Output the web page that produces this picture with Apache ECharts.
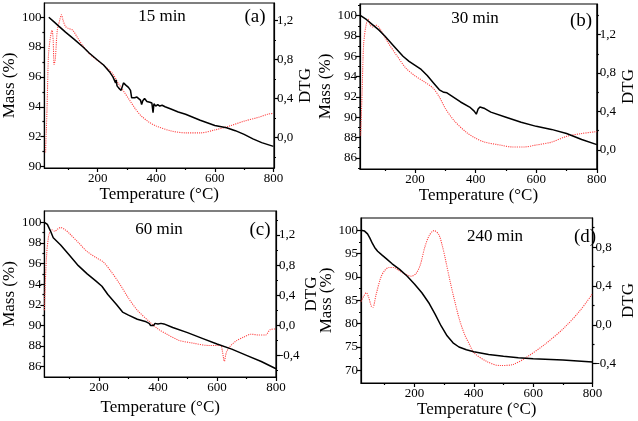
<!DOCTYPE html>
<html>
<head>
<meta charset="utf-8">
<script src="https://cdn.jsdelivr.net/npm/echarts@6/dist/echarts.min.js"></script>
<style>html,body{margin:0;padding:0;background:#fff}#c{width:638px;height:421px}</style>
</head>
<body>
<div id="c"></div>
<script>
// ---------- data ----------
const panelTitles = ['15 min', '30 min', '60 min', '240 min'];
const panelLetters = ['(a)', '(b)', '(c)', '(d)'];
const xTicks = [200, 400, 600, 800];
const xMinorTicks = [100, 300, 500, 700];

const massA = [[33,100.0],[50,99.7],[67,99.4],[90,99.0],[121,98.5],[150,98.0],[171,97.6],[198,97.15],[220,96.8],[240,96.35],[252,96.0],[258,95.9],[261,95.6],[263,95.8],[266,95.4],[272,95.25],[280,95.1],[284,95.0],[288,95.6],[296,95.45],[305,95.3],[312,95.1],[316,94.6],[320,94.7],[326,94.6],[334,94.65],[340,94.55],[346,94.45],[350,94.15],[354,94.4],[360,94.55],[368,94.35],[372,94.45],[378,94.3],[385,94.25],[389,93.6],[392,94.2],[398,94.05],[405,94.15],[412,94.05],[420,94.1],[430,94.0],[450,93.85],[475,93.65],[500,93.5],[550,93.1],[600,92.75],[640,92.6],[670,92.4],[700,92.15],[730,91.85],[760,91.6],[800,91.35]];
const dtgA = [[22,-0.15],[27,0.3],[32,0.85],[38,1.02],[44,1.1],[48,1.0],[51,0.75],[55,0.8],[62,1.1],[70,1.2],[76,1.26],[82,1.2],[90,1.14],[100,1.12],[115,1.1],[130,1.03],[150,0.94],[175,0.85],[200,0.79],[225,0.73],[250,0.66],[270,0.56],[290,0.47],[310,0.38],[330,0.29],[350,0.22],[375,0.16],[400,0.12],[450,0.07],[500,0.05],[550,0.05],[600,0.08],[650,0.12],[700,0.17],[750,0.21],[780,0.24],[800,0.25]];

const massB = [[20,100],[40,99.6],[60,99.1],[80,98.6],[100,98.0],[130,97.0],[160,96.0],[180,95.5],[200,95.1],[220,94.7],[240,94.1],[260,93.4],[280,92.7],[295,92.45],[305,92.4],[320,92.1],[350,91.5],[380,91.0],[395,90.6],[402,90.3],[408,90.8],[414,91.0],[420,90.85],[430,90.85],[450,90.5],[500,90.0],[550,89.5],[600,89.1],[650,88.8],[700,88.4],[750,87.8],[800,87.3]];
const dtgB = [[20,0.15],[25,0.6],[30,1.1],[38,1.3],[45,1.36],[52,1.3],[60,1.28],[70,1.3],[80,1.28],[95,1.2],[110,1.12],[140,0.98],[170,0.85],[200,0.77],[230,0.71],[260,0.64],[280,0.55],[300,0.43],[330,0.3],[370,0.18],[400,0.12],[430,0.08],[480,0.05],[520,0.03],[560,0.03],[600,0.05],[650,0.08],[700,0.14],[750,0.17],[800,0.19]];

const massC = [[15,100],[25,99.8],[35,99.2],[45,98.5],[70,97.8],[100,96.8],[130,95.8],[160,95.0],[190,94.3],[210,93.8],[230,93.0],[260,92.0],[280,91.3],[300,91.0],[330,90.6],[360,90.35],[370,90.2],[375,90.0],[380,90.15],[385,90.0],[390,90.2],[395,90.05],[400,90.15],[405,90.0],[410,90.2],[420,90.15],[450,89.8],[500,89.3],[550,88.75],[600,88.2],[650,87.7],[700,87.1],[750,86.5],[800,85.8]];
const dtgC = [[15,0.2],[22,0.9],[30,1.2],[40,1.27],[50,1.25],[60,1.28],[70,1.3],[85,1.27],[100,1.22],[130,1.1],[160,0.98],[190,0.9],[215,0.84],[240,0.72],[270,0.55],[300,0.36],[330,0.2],[370,0.05],[400,-0.05],[430,-0.12],[470,-0.2],[520,-0.24],[570,-0.27],[612,-0.27],[618,-0.34],[625,-0.48],[632,-0.36],[645,-0.28],[665,-0.21],[690,-0.16],[715,-0.12],[740,-0.13],[765,-0.13],[780,-0.06],[800,-0.05]];

const massD = [[20,100],[32,99.8],[42,99.2],[50,98.3],[58,97.2],[66,96.3],[76,95.5],[90,94.7],[105,93.9],[125,92.8],[150,91.6],[175,90.2],[200,88.5],[225,86.6],[250,84.3],[270,82.0],[290,79.5],[310,77.4],[330,75.9],[350,75.0],[375,74.4],[400,74.0],[450,73.4],[500,73.0],[550,72.7],[600,72.5],[700,72.2],[800,71.8]];
const dtgD = [[20,0.24],[30,0.3],[38,0.33],[46,0.28],[55,0.19],[60,0.18],[70,0.3],[87,0.49],[100,0.56],[114,0.59],[130,0.59],[147,0.56],[170,0.52],[190,0.5],[206,0.53],[220,0.62],[235,0.8],[250,0.92],[266,0.97],[282,0.93],[295,0.8],[304,0.68],[320,0.45],[336,0.24],[352,0.05],[369,-0.1],[385,-0.2],[401,-0.29],[445,-0.38],[488,-0.42],[531,-0.41],[575,-0.34],[640,-0.2],[705,-0.03],[759,0.15],[800,0.32]];

const massTicksA = [90,92,94,96,98,100];
const massTicksBC = [86,88,90,92,94,96,98,100];
const massTicksD = [70,75,80,85,90,95,100];
const dtgTicksAB = [0,0.4,0.8,1.2];
const dtgTicksC = [-0.4,0,0.4,0.8,1.2];
const dtgTicksD = [-0.4,0,0.4,0.8];

// ---------- layout ----------
const FONT = '"Liberation Serif", "DejaVu Serif", serif';
const panels = [
  {mass: massA, dtg: dtgA, grid:{left:36,top:3,width:238,height:165}, x:[18,802], y:[89.9,100.95], y2:[-0.31,1.38],
   yt: massTicksA, ym:[91,93,95,97,99], y2t: dtgTicksAB, y2m:[-0.2,0.2,0.6,1.0], title:[162,17], letter:[255,17], xGap:13, yGap:20, y2Gap:23},
  {mass: massB, dtg: dtgB, grid:{left:360,top:4,width:238,height:165}, x:[18,800], y:[84.9,101.15], y2:[-0.2,1.52],
   yt: massTicksBC, ym:[85,87,89,91,93,95,97,99,101], y2t: dtgTicksAB, y2m:[0.2,0.6,1.0,1.4], title:[475,19], letter:[581,21], xGap:13, yGap:20, y2Gap:22},
  {mass: massC, dtg: dtgC, grid:{left:37,top:211,width:239,height:166}, x:[15,800], y:[85,101.1], y2:[-0.69,1.52],
   yt: massTicksBC, ym:[87,89,91,93,95,97,99], y2t: dtgTicksC, y2m:[-0.6,-0.2,0.2,0.6,1.0,1.4], title:[159,230], letter:[260,230], xGap:22, yGap:20, y2Gap:22},
  {mass: massD, dtg: dtgD, grid:{left:361,top:218,width:240,height:165}, x:[20,800], y:[67.3,102.6], y2:[-0.6,1.1],
   yt: massTicksD, ym:[72.5,77.5,82.5,87.5,92.5,97.5], y2t: dtgTicksD, y2m:[-0.2,0.2,0.6,1.0], title:[495,237], letter:[585,237], xGap:17, yGap:20, y2Gap:22}
];

const grids = [], xAxes = [], yAxes = [], series = [], graphics = [];
const lineStyle = {color:'#000', width:1.2};
const fmtDtg = v => (Math.abs(v) < 1e-9 ? 0 : v).toFixed(1).replace('.', ',');

panels.forEach((p, i) => {
  grids.push(Object.assign({show:true, borderColor:'#000', borderWidth:1.2, containLabel:false}, p.grid));
  const xi = xAxes.length;
  xAxes.push({type:'value', gridIndex:i, min:p.x[0], max:p.x[1], position:'bottom',
    name:'Temperature (°C)', nameLocation:'middle', nameGap:p.xGap,
    nameTextStyle:{fontFamily:FONT, fontSize:17, color:'#000'},
    axisLine:{show:true, onZero:false, lineStyle}, splitLine:{show:false},
    axisTick:{show:true, length:4, lineStyle, customValues:xTicks},
    axisLabel:{fontFamily:FONT, fontSize:13, color:'#000', margin:4, customValues:xTicks}});
  xAxes.push({type:'value', gridIndex:i, min:p.x[0], max:p.x[1], position:'bottom',
    axisLine:{show:false, onZero:false}, splitLine:{show:false},
    axisTick:{show:true, length:2, lineStyle, customValues:xMinorTicks},
    axisLabel:{show:false}});
  const yi = yAxes.length;
  yAxes.push({type:'value', gridIndex:i, min:p.y[0], max:p.y[1], position:'left',
    name:'Mass (%)', nameLocation:'middle', nameGap:p.yGap, nameRotate:90,
    nameTextStyle:{fontFamily:FONT, fontSize:17, color:'#000'},
    axisLine:{show:true, onZero:false, lineStyle}, splitLine:{show:false},
    axisTick:{show:true, length:4, lineStyle, customValues:p.yt},
    axisLabel:{fontFamily:FONT, fontSize:13, color:'#000', margin:3, customValues:p.yt}});
  yAxes.push({type:'value', gridIndex:i, min:p.y[0], max:p.y[1], position:'left',
    axisLine:{show:false, onZero:false}, splitLine:{show:false},
    axisTick:{show:true, length:2, lineStyle, customValues:p.ym}, axisLabel:{show:false}});
  yAxes.push({type:'value', gridIndex:i, min:p.y2[0], max:p.y2[1], position:'right',
    name:'DTG', nameLocation:'middle', nameGap:p.y2Gap, nameRotate:90,
    nameTextStyle:{fontFamily:FONT, fontSize:17, color:'#000'},
    axisLine:{show:true, onZero:false, lineStyle}, splitLine:{show:false},
    axisTick:{show:true, length:4, lineStyle, customValues:p.y2t},
    axisLabel:{fontFamily:FONT, fontSize:13, color:'#000', margin:3, customValues:p.y2t, formatter:fmtDtg}});
  yAxes.push({type:'value', gridIndex:i, min:p.y2[0], max:p.y2[1], position:'right',
    axisLine:{show:false, onZero:false}, splitLine:{show:false},
    axisTick:{show:true, length:2, lineStyle, customValues:p.y2m}, axisLabel:{show:false}});
  series.push({type:'line', xAxisIndex:xi, yAxisIndex:yi+2, data:p.dtg, showSymbol:false, smooth:0.3,
    lineStyle:{color:'#ff4040', width:1.1, type:'dotted'}, z:2, animation:false});
  series.push({type:'line', xAxisIndex:xi, yAxisIndex:yi, data:p.mass, showSymbol:false,
    lineStyle:{color:'#000', width:1.5}, z:3, animation:false});
  graphics.push({type:'text', x:p.title[0], y:p.title[1],
    style:{text:panelTitles[i], font:'17px '+FONT, fill:'#000', align:'center', verticalAlign:'middle'}});
  graphics.push({type:'text', x:p.letter[0], y:p.letter[1],
    style:{text:panelLetters[i], font:'19px '+FONT, fill:'#000', align:'center', verticalAlign:'middle'}});
});

const chart = echarts.init(document.getElementById('c'), null, {renderer:'canvas'});
chart.setOption({animation:false, backgroundColor:'#fff', grid:grids, xAxis:xAxes, yAxis:yAxes, series, graphic:graphics});
</script>
</body>
</html>
